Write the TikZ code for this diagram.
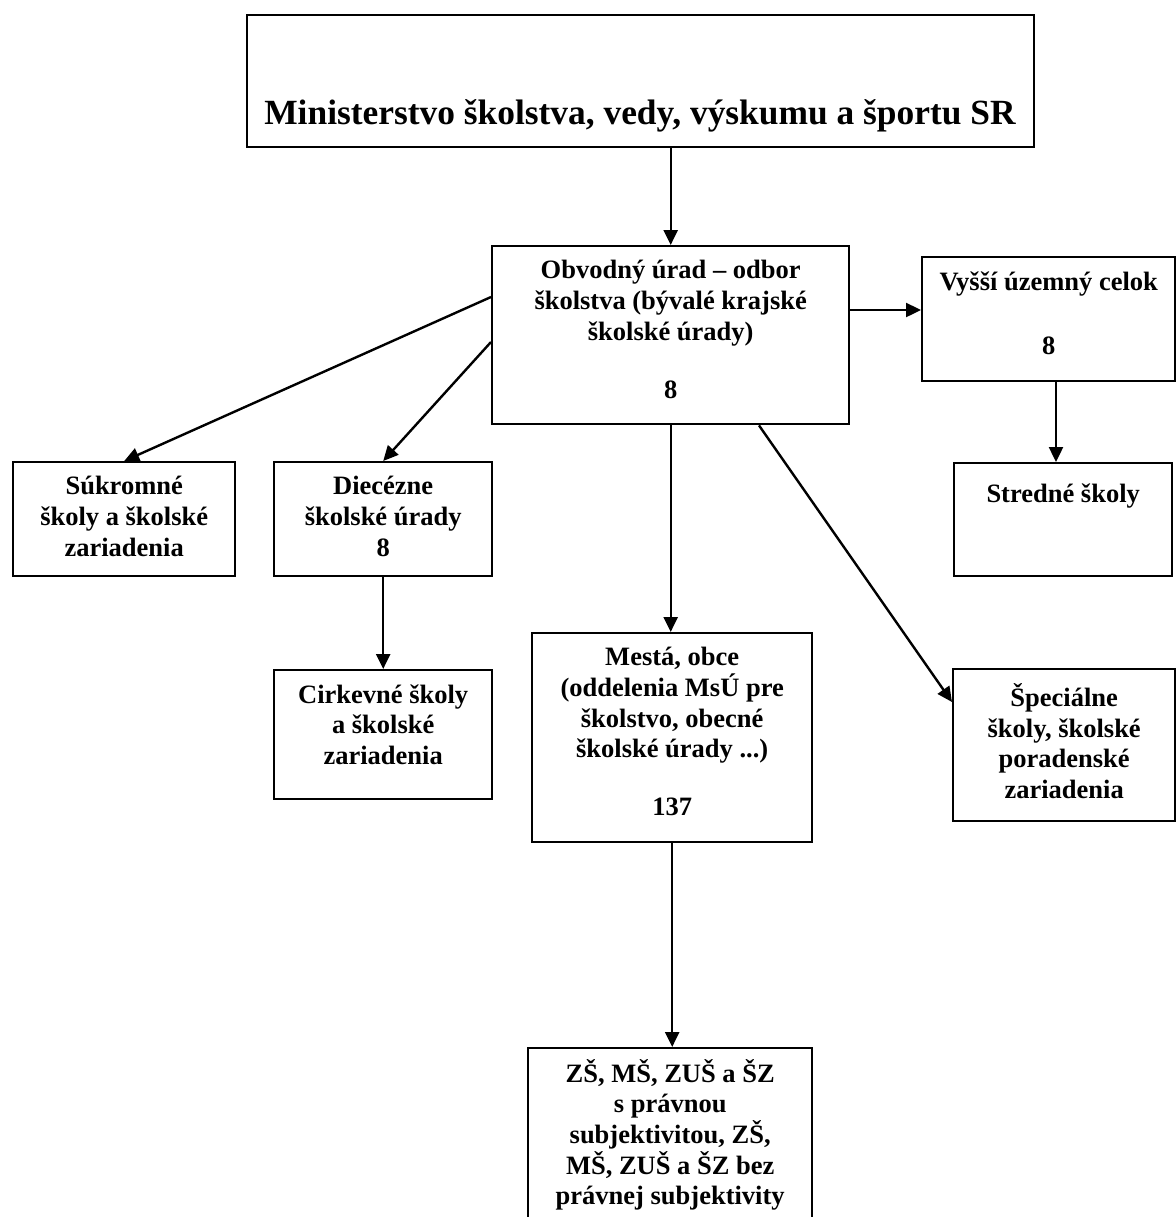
\documentclass[tikz,border=0pt]{standalone}
\usepackage{fontspec}
\setmainfont{Liberation Serif}
\usetikzlibrary{arrows.meta}

\tikzset{
    box/.style={draw, line width=1.2pt, inner sep=0pt, anchor=north west},
    txt/.style={anchor=north, align=center, inner sep=0pt,
        font=\bfseries\fontsize{13.25pt}{15.3pt}\selectfont,
        execute at begin node={\rule{0pt}{12.5pt}}},
    arr/.style={line width=1.2pt, -{Triangle[length=7.5pt,width=7pt]}},
}

\begin{document}
\begin{tikzpicture}[x=0.5pt, y=-0.5pt]
    \useasboundingbox (0,0) rectangle (1175,1217);

    % boxes
    \node[box, minimum width=393.5pt, minimum height=66pt]   (min) at (246,14)  {}; % ministry
    \node[box, minimum width=178.5pt, minimum height=89pt]   (obv) at (491,245) {}; % district office
    \node[box, minimum width=126.5pt, minimum height=62pt]   (vuc) at (921,256) {}; % region
    \node[box, minimum width=109pt,   minimum height=56.5pt] (str) at (953,462) {};
    \node[box, minimum width=111pt,   minimum height=57pt]   (suk) at (12,461)  {};
    \node[box, minimum width=109pt,   minimum height=57pt]   (die) at (273,461) {};
    \node[box, minimum width=109pt,   minimum height=64.5pt] (cir) at (273,669) {};
    \node[box, minimum width=140pt,   minimum height=104.5pt] (mes) at (531,632) {}; % towns
    \node[box, minimum width=111pt,   minimum height=76pt]   (spe) at (952,668) {};
    \node[box, minimum width=142pt,   minimum height=95pt]   (zs)  at (527,1047) {}; % schools

    % texts
    \node[anchor=base, inner sep=0pt, font=\bfseries\fontsize{17.7pt}{20pt}\selectfont] (min-t) at (640,124)
        {Ministerstvo školstva, vedy, výskumu a športu SR};
    \node[txt] (obv-t) at ([yshift=-7.5pt]obv.north)
        {Obvodný úrad – odbor\\školstva (bývalé krajské\\školské úrady)\\[14pt]8};
    \node[txt] (vuc-t) at ([yshift=-7.5pt]vuc.north) {Vyšší územný celok\\[16.7pt]8};
    \node[txt] (str-t) at ([yshift=-7.5pt]str.north) {Stredné školy};
    \node[txt] (suk-t) at ([yshift=-7.5pt]suk.north) {Súkromné\\školy a školské\\zariadenia};
    \node[txt] (die-t) at ([yshift=-7.5pt]die.north) {Diecézne\\školské úrady\\8};
    \node[txt] (cir-t) at ([yshift=-7.5pt]cir.north) {Cirkevné školy\\a školské\\zariadenia};
    \node[txt] (mes-t) at ([yshift=-7.5pt]mes.north)
        {Mestá, obce\\(oddelenia MsÚ pre\\školstvo, obecné\\školské úrady ...)\\[13.7pt]137};
    \node[txt] (spe-t) at ([yshift=-7.5pt]spe.north) {Špeciálne\\školy, školské\\poradenské\\zariadenia};
    \node[txt] (zs-t)  at ([yshift=-5.9pt]zs.north)
        {ZŠ, MŠ, ZUŠ a ŠZ\\s právnou\\subjektivitou, ZŠ,\\MŠ, ZUŠ a ŠZ bez\\právnej subjektivity};

    % arrows
    \draw[arr] (obv.north |- min.south) -- (obv.north);
    \draw[arr] (obv.east |- 0,310) -- (vuc.west |- 0,310);
    \draw[arr] (vuc.south -| 1056,0) -- (str.north -| 1056,0);
    \draw[arr] (obv.west |- 0,297) -- (suk.north);
    \draw[arr] (obv.west |- 0,342) -- (die.north);
    \draw[arr] (die.south) -- (cir.north);
    \draw[arr] (obv.south) -- (obv.south |- mes.north);
    \draw[arr] (obv.south -| 759,0) -- (spe.west |- 0,702);
    \draw[arr] (mes.south) -- (mes.south |- zs.north);
\end{tikzpicture}
\end{document}
